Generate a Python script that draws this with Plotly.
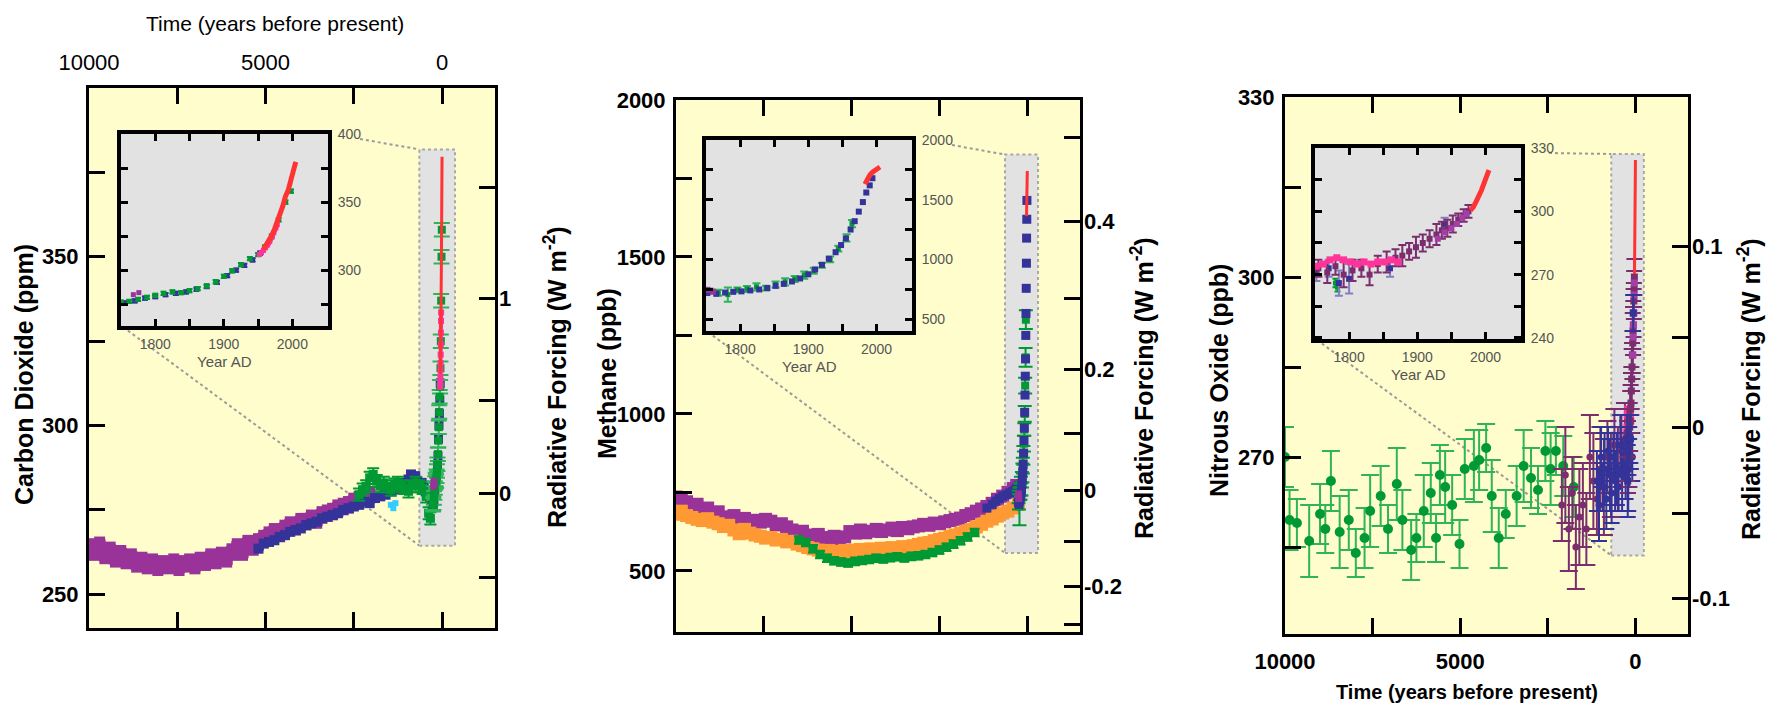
import math
import plotly.graph_objects as go

W, H = 1768, 710

# ======================= DATA =======================
# --- Carbon dioxide (ppm); long-term records vs years before present ---
co2_purple_bp = [10000, 9850, 9700, 9550, 9400, 9250, 9100, 8950, 8800, 8650,
                 8500, 8350, 8200, 8050, 7900, 7750, 7600, 7450, 7300, 7150,
                 7000, 6850, 6700, 6550, 6400, 6250, 6100, 5950, 5800, 5650,
                 5500, 5350, 5200, 5050, 4900, 4750, 4600, 4450, 4300, 4150,
                 4000, 3850, 3700, 3550, 3400, 3250, 3100, 2950, 2800, 2650,
                 2500, 2350, 2200, 2050]
co2_purple_ppm = [264, 262.5, 264.5, 261.5, 263, 260.5, 262, 260, 261, 259,
                  260, 258.5, 259.5, 258, 259, 258.5, 259.5, 258, 259, 259.5,
                  258.5, 260, 259.5, 261, 260, 261.5, 260.5, 262.5, 264, 262.5,
                  265, 264, 265.5, 266.5, 267.5, 268.5, 268, 269.5, 270.5, 270,
                  271.5, 271.5, 272.5, 272, 273.5, 274, 274.5, 275.5, 276, 276.5,
                  277.5, 278, 279, 279.5]
co2_blue_bp = [5200, 5050, 4900, 4750, 4600, 4450, 4300, 4150, 4000, 3850,
               3700, 3550, 3400, 3250, 3100, 2950, 2800, 2650, 2500, 2350,
               2200, 2050, 1900, 1750, 1600, 1450, 1300, 1150, 1050, 950,
               880, 820, 760, 700, 640, 580, 520, 460, 400, 340, 290, 250]
co2_blue_ppm = [263.5, 265, 265.5, 266, 267, 267.5, 268.5, 269, 269.5, 270.5,
                271, 271.5, 272.5, 273, 273.5, 274, 275, 275.5, 276, 276.5,
                277.5, 277, 278.5, 279, 279.5, 280.5, 281, 281.5, 283, 284,
                285.5, 284.5, 285, 283.5, 282.5, 283, 281.5, 280.5, 280, 279, 278, 277.5]
co2_green_bp = [2350, 2250, 2150, 2050, 1950, 1850, 1750, 1650, 1550, 1450, 1350,
                1250, 1150, 1050, 950, 850, 750, 650, 550, 450, 380, 330]
co2_green_ppm = [279.5, 281, 282, 284.5, 285.5, 283.5, 282, 283, 282, 281, 282.5,
                 283, 282, 281.5, 280.5, 282, 283, 282, 281.5, 279, 274, 272.5]
co2_cyan_bp = [1450, 1380, 1320]
co2_cyan_ppm = [276.5, 275.5, 277]
# recent records vs calendar year AD
co2_green_yr = [1750, 1762, 1775, 1788, 1800, 1812, 1825, 1838, 1850, 1862, 1875,
                1888, 1900, 1912, 1925, 1938, 1950, 1960, 1970, 1980, 1990, 1998]
co2_green_mod_ppm = [276.5, 277, 278.5, 280, 281.5, 283, 284, 283.5, 285, 286.5, 288.5,
                     291.5, 295.5, 299.5, 304, 308.5, 311.5, 317, 325, 337, 350, 358]
co2_blue_yr = [1755, 1770, 1785, 1800, 1815, 1830, 1845, 1860, 1875, 1890, 1905,
               1918, 1930, 1942, 1953]
co2_blue_mod_ppm = [276, 277.5, 279.5, 280.5, 282, 283, 284, 286, 288, 291, 296,
                    300, 303.5, 307.5, 312.5]
co2_purple_yr = [1768, 1776]
co2_purple_mod_ppm = [282, 283.5]
co2_pink_yr = [1952, 1955, 1958, 1961, 1964, 1967, 1970, 1973, 1976, 1978]
co2_pink_ppm = [311.5, 313, 314.5, 316.5, 318.5, 321, 324, 327.5, 331, 333.5]
co2_red_yr = [1958, 1962, 1966, 1970, 1974, 1978, 1982, 1986, 1990, 1994, 1998, 2002, 2005]
co2_red_ppm = [315.3, 318.4, 321.1, 325.6, 330.1, 335.3, 341.0, 347.0, 354.2, 358.8,
               366.5, 373.1, 379.6]

# --- Methane (ppb) ---
ch4_purple_bp = [10000, 9850, 9700, 9550, 9400, 9250, 9100, 8950, 8800, 8650,
                 8500, 8350, 8200, 8050, 7900, 7750, 7600, 7450, 7300, 7150,
                 7000, 6850, 6700, 6550, 6400, 6250, 6100, 5950, 5800, 5650,
                 5500, 5350, 5200, 5050, 4900, 4750, 4600, 4450, 4300, 4150,
                 4000, 3850, 3700, 3550, 3400, 3250, 3100, 2950, 2800, 2650,
                 2500, 2350, 2200, 2050, 1900, 1750, 1600, 1450, 1300, 1150,
                 1000, 850, 700, 550, 400, 300]
ch4_purple_ppb = [735, 725, 720, 705, 712, 695, 700, 680, 688, 672,
                  668, 676, 660, 667, 652, 661, 655, 664, 658, 646,
                  650, 640, 630, 620, 626, 614, 610, 616, 606, 600,
                  610, 602, 608, 625, 620, 630, 621, 626, 632, 625,
                  630, 636, 628, 638, 634, 640, 643, 648, 645, 652,
                  650, 656, 660, 664, 668, 676, 682, 690, 697, 705,
                  715, 728, 738, 750, 762, 772]
ch4_orange_bp = [10000, 9850, 9700, 9550, 9400, 9250, 9100, 8950, 8800, 8650,
                 8500, 8350, 8200, 8050, 7900, 7750, 7600, 7450, 7300, 7150,
                 7000, 6850, 6700, 6550, 6400, 6250, 6100, 5950, 5800, 5650,
                 5500, 5350, 5200, 5050, 4900, 4750, 4600, 4450, 4300, 4150,
                 4000, 3850, 3700, 3550, 3400, 3250, 3100, 2950, 2800, 2650,
                 2500, 2350, 2200, 2050, 1900, 1750, 1600, 1450, 1300, 1150,
                 1000, 850, 700, 550, 400, 250]
ch4_orange_ppb = [680, 690, 676, 670, 664, 660, 666, 655, 650, 641,
                  645, 630, 618, 632, 620, 614, 610, 604, 606, 598,
                  600, 592, 594, 585, 580, 574, 570, 566, 562, 565,
                  558, 562, 565, 560, 566, 568, 562, 570, 566, 572,
                  568, 574, 570, 577, 575, 580, 584, 588, 590, 596,
                  600, 604, 610, 614, 620, 626, 632, 640, 648, 658,
                  665, 674, 684, 690, 700, 712]
ch4_green_bp = [6500, 6300, 6100, 5900, 5700, 5500, 5300, 5100, 4900, 4700, 4500, 4300, 4100,
                3900, 3700, 3500, 3300, 3100, 2900, 2700, 2500, 2300, 2100, 1900, 1700, 1500]
ch4_green_ppb = [598, 590, 570, 552, 540, 532, 528, 525, 530, 533, 536, 540, 538,
                 542, 545, 541, 546, 548, 552, 558, 566, 575, 585, 596, 608, 622]
ch4_blue_bp = [1150, 1000, 900, 800, 700, 600, 500, 420, 350, 300, 250]
ch4_blue_ppb = [700, 712, 722, 730, 738, 742, 748, 752, 758, 765, 772]
ch4_blue_yr = [1752, 1765, 1778, 1790, 1802, 1815, 1828, 1840, 1852, 1864, 1876, 1888, 1900,
               1910, 1920, 1930, 1940, 1948, 1955, 1962, 1968, 1974, 1980, 1985, 1990, 1994]
ch4_blue_mod_ppb = [718, 712, 722, 728, 732, 740, 748, 760, 778, 795, 815, 840, 875,
                    915, 955, 1005, 1060, 1120, 1175, 1250, 1320, 1400, 1480, 1560, 1620, 1680]
ch4_green_yr = [1755, 1768, 1782, 1796, 1810, 1824, 1838, 1852, 1866, 1880, 1894, 1908,
                1920, 1932, 1944, 1956, 1964]
ch4_green_mod_ppb = [735, 720, 705, 745, 752, 770, 760, 790, 812, 835, 868, 905,
                     950, 1000, 1090, 1180, 1300]
ch4_green_mod_err = [20, 25, 60, 20, 25, 30, 20, 25, 30, 25, 30, 25, 20, 25, 25, 30, 30]
ch4_purple_yr = [1752, 1760]
ch4_purple_mod_ppb = [745, 730]
ch4_red_yr = [1983, 1986, 1990, 1994, 1998, 2002, 2005]
ch4_red_ppb = [1630, 1665, 1705, 1730, 1750, 1765, 1774]

# --- Nitrous oxide (ppb) ---
n2o_green_bp = [10000, 9870, 9660, 9310, 9000, 8850, 8690, 8440, 8180, 7980,
                7730, 7570, 7270, 7060, 6810, 6650, 6400, 6250, 6040, 5840,
                5690, 5580, 5430, 5230, 5020, 4870, 4610, 4460, 4260, 4100,
                3900, 3700, 3390, 3190, 2980, 2780, 2570, 2420, 2270, 2060, 1760]
n2o_green_ppb = [270, 259.5, 259, 256, 260.5, 258, 266, 257.5, 259.5, 254,
                 256.5, 261, 263.5, 258, 265.5, 259.5, 254.5, 256.5, 261, 264,
                 256.5, 267, 265, 262, 255.5, 268, 268.5, 269.5, 271.5, 263.5,
                 256.5, 260.5, 263.5, 268.5, 266.5, 264.5, 271, 268, 271, 268.5, 265]
n2o_green_err = [5, 5, 4, 6, 5, 4, 5, 6, 5, 4,
                 5, 6, 5, 4, 6, 5, 5, 4, 6, 5,
                 4, 5, 6, 5, 4, 5, 6, 5, 4, 6,
                 5, 4, 5, 6, 5, 4, 5, 6, 4, 5, 5]
n2o_purple_bp = [2100, 2000, 1900, 1800, 1700, 1600, 1500, 1400, 1300, 1200,
                 1100, 1000, 900, 800, 700, 600, 500, 400, 300]
n2o_purple_ppb = [262, 267, 258, 264, 255, 260, 262, 258, 270, 266,
                  263, 268, 265, 270, 267, 272, 268, 271, 273]
n2o_purple_err = [6, 8, 7, 6, 7, 8, 7, 6, 7, 8, 6, 7, 8, 6, 7, 6, 7, 6, 6]
n2o_blue_bp = [1100, 1040, 980, 930, 880, 830, 780, 730, 680, 630, 580,
               530, 480, 430, 380, 330, 280, 230, 180, 130, 90]
n2o_blue_ppb = [266, 262, 270, 265, 268, 263, 271, 267, 264, 270, 266,
                268, 265, 272, 267, 270, 268, 271, 269, 273, 270]
n2o_blue_err = [5, 6, 5, 4, 6, 5, 4, 6, 5, 4, 5, 6, 4, 5, 6, 4, 5, 5, 4, 5, 4]
n2o_pink_yr = [1752, 1762, 1772, 1782, 1792, 1802, 1812, 1822, 1832, 1842, 1852, 1862, 1872]
n2o_pink_ppb = [274, 275, 277, 278, 277, 276, 275, 276, 275, 276, 276, 277, 276]
n2o_mag_yr = [1755, 1768, 1780, 1792, 1805, 1818, 1830, 1842, 1855, 1868, 1878,
              1888, 1898, 1908, 1918, 1928, 1936, 1944, 1952, 1960, 1968, 1975]
n2o_mag_ppb = [273, 271, 274, 270, 272, 273, 270, 275, 276, 278, 279,
               281, 283, 285, 287, 289, 291, 292, 294, 296, 298, 300]
n2o_mag_err = [4, 5, 4, 6, 5, 4, 5, 4, 5, 4, 5, 4, 5, 4, 4, 5, 4, 4, 4, 3, 3, 3]
n2o_violet_yr = [1930, 1940, 1950, 1958, 1966, 1972]
n2o_violet_ppb = [287, 290, 292, 294, 297, 299]
n2o_blue_yr = [1752, 1770, 1785, 1800, 1860, 1940]
n2o_blue_mod_ppb = [271, 273, 266, 268, 273, 294]
n2o_blue_mod_err = [4, 4, 6, 7, 4, 3]
n2o_green_yr = [1780, 1783]
n2o_green_mod_ppb = [266, 264]
n2o_red_yr = [1978, 1982, 1986, 1990, 1994, 1998, 2002, 2005]
n2o_red_ppb = [300.5, 302, 304.5, 307, 310, 313.5, 317, 319.5]

# axis ticks: labelled (major) and unlabelled (minor)
time_major = [10000, 5000, 0]
time_minor = [7500, 2500]
co2_major = [250, 300, 350]
co2_minor = [275, 325, 375]
ch4_major = [500, 1000, 1500, 2000]
ch4_minor = [750, 1250, 1750]
n2o_major = [270, 300, 330]
n2o_minor = [255, 285, 315]
co2_rf_major = [0, 1]
co2_rf_minor = [-0.5, 0.5, 1.5]
ch4_rf_major = [-0.2, 0, 0.2, 0.4]
ch4_rf_minor = [-0.3, -0.1, 0.1, 0.3, 0.5]
n2o_rf_major = [-0.1, 0, 0.1]
n2o_rf_minor = [-0.05, 0.05]
inset_year_major = [1800, 1900, 2000]
inset_year_minor = [1850, 1950]
co2_inset_major = [300, 350, 400]
co2_inset_minor = [275, 325, 375]
ch4_inset_major = [500, 1000, 1500, 2000]
ch4_inset_minor = [750, 1250, 1750]
n2o_inset_major = [240, 270, 300, 330]
n2o_inset_minor = [255, 285, 315]

# radiative-forcing reference concentrations
C0, M0, N0 = 280.0, 755.0, 275.0


def overlap(m, n):
    return 0.47 * math.log(1 + 2.01e-5 * (m * n) ** 0.75 + 5.31e-15 * m * (m * n) ** 1.52)


def rf_co2_inv(r):
    return C0 * math.exp(r / 5.35)


def rf_ch4(m):
    return 0.036 * (math.sqrt(m) - math.sqrt(M0)) - (overlap(m, N0) - overlap(M0, N0))


def rf_n2o(n):
    return 0.12 * (math.sqrt(n) - math.sqrt(N0)) - (overlap(M0, n) - overlap(M0, N0))


def invert(f, target, lo, hi):
    for _ in range(80):
        mid = 0.5 * (lo + hi)
        if f(mid) < target:
            lo = mid
        else:
            hi = mid
    return 0.5 * (lo + hi)


def ch4_at(r):
    return invert(rf_ch4, r, 100, 4000)


def n2o_at(r):
    return invert(rf_n2o, r, 150, 400)


PRESENT = 2005


def bp(years):
    return [PRESENT - y for y in years]


def fmt(v):
    return f"{v:g}"


# ======================= LAYOUT GEOMETRY (pixels) =======================
P1 = (89, 88, 495, 628)
P2 = (676, 100, 1080, 632)
P3 = (1285, 97, 1688, 634)
I1 = (121, 134, 328, 326)
I2 = (706, 140, 912, 331)
I3 = (1315, 148, 1521, 339)
TRANGE = [10000, -1500]
YEARRANGE = [1750, 2052]


def dom_x(b):
    return [b[0] / W, b[2] / W]


def dom_y(b):
    return [1 - b[3] / H, 1 - b[1] / H]


def px(x):
    return x / W


def py(y):
    return 1 - y / H


SANS = "Liberation Sans, Arial, sans-serif"

PURPLE = "#993399"
BLUE = "#333399"
GREEN = "#009933"
LGREEN = "#2fb457"
ORANGE = "#ff9933"
RED = "#ff3333"
PINK = "#ff3399"
CYAN = "#33ccff"
MAG = "#7a2e6e"
VIOLET = "#a43fa8"

fig = go.Figure()


def sc(x, y, xa, ya, color, size=8, symbol="square", err=None, errcolor=None,
       mode="markers", lw=3, errw=4, errt=2):
    tr = go.Scatter(x=x, y=y, xaxis=xa, yaxis=ya, mode=mode, showlegend=False,
                    hoverinfo="skip",
                    marker=dict(color=color, size=size, symbol=symbol, line=dict(width=0)),
                    line=dict(color=color, width=lw))
    if err is not None:
        if isinstance(err, (int, float)):
            tr.error_y = dict(type="constant", value=err, visible=True,
                              color=errcolor or color, thickness=errt, width=errw)
        else:
            tr.error_y = dict(type="data", array=err, visible=True,
                              color=errcolor or color, thickness=errt, width=errw)
    fig.add_trace(tr)


# ---------------- panel 1: CO2 ----------------
sc(co2_purple_bp, co2_purple_ppm, "x", "y", PURPLE, size=12, err=2.6, errt=11, errw=0)
sc(co2_blue_bp, co2_blue_ppm, "x", "y", BLUE, size=10, err=1.3, errt=8, errw=0)
sc(co2_green_bp, co2_green_ppm, "x", "y", GREEN, size=9, err=1.8, errw=6)
sc(co2_cyan_bp, co2_cyan_ppm, "x", "y", CYAN, size=6)
sc(bp(co2_blue_yr), co2_blue_mod_ppm, "x", "y", BLUE, size=9, err=1.2)
sc(bp(co2_green_yr), co2_green_mod_ppm, "x", "y", GREEN, size=8, err=2, errcolor=LGREEN, errw=8)
sc(bp(co2_purple_yr), co2_purple_mod_ppm, "x", "y", PURPLE, size=7)
sc(bp(co2_pink_yr), co2_pink_ppm, "x", "y", PINK, size=6, mode="lines+markers", lw=4)
sc(bp(co2_red_yr), co2_red_ppm, "x", "y", RED, mode="lines", lw=3)
fig.add_trace(go.Scatter(x=[None], y=[None], xaxis="x", yaxis="y2", showlegend=False, hoverinfo="skip"))
# inset
sc(co2_blue_yr, co2_blue_mod_ppm, "x2", "y3", BLUE, size=5, err=1.2, errw=3)
sc(co2_green_yr, co2_green_mod_ppm, "x2", "y3", GREEN, size=5, err=1.2, errw=3)
sc(co2_purple_yr, co2_purple_mod_ppm, "x2", "y3", PURPLE, size=5)
sc(co2_pink_yr, co2_pink_ppm, "x2", "y3", PINK, size=5, mode="lines+markers", lw=5)
sc(co2_red_yr, co2_red_ppm, "x2", "y3", RED, mode="lines", lw=5)

# ---------------- panel 2: CH4 ----------------
sc(ch4_purple_bp, ch4_purple_ppb, "x3", "y4", PURPLE, size=13, err=18, errt=12, errw=0)
sc(ch4_orange_bp, ch4_orange_ppb, "x3", "y4", ORANGE, size=13, err=18, errt=12, errw=0)
sc(ch4_green_bp, ch4_green_ppb, "x3", "y4", GREEN, size=9, err=12, errw=5)
sc(ch4_blue_bp, ch4_blue_ppb, "x3", "y4", BLUE, size=9)
sc(bp(ch4_green_yr), ch4_green_mod_ppb, "x3", "y4", GREEN, size=8, err=ch4_green_mod_err, errw=7)
sc(bp(ch4_blue_yr), ch4_blue_mod_ppb, "x3", "y4", BLUE, size=9)
sc(bp(ch4_purple_yr), ch4_purple_mod_ppb, "x3", "y4", PURPLE, size=7)
sc(bp(ch4_red_yr), ch4_red_ppb, "x3", "y4", RED, mode="lines", lw=3)
fig.add_trace(go.Scatter(x=[None], y=[None], xaxis="x3", yaxis="y5", showlegend=False, hoverinfo="skip"))
# inset
sc(ch4_green_yr, ch4_green_mod_ppb, "x4", "y6", GREEN, size=5, err=ch4_green_mod_err, errcolor=LGREEN, errw=4)
sc(ch4_blue_yr, ch4_blue_mod_ppb, "x4", "y6", BLUE, size=6)
sc(ch4_purple_yr, ch4_purple_mod_ppb, "x4", "y6", PURPLE, size=6)
sc(ch4_red_yr, ch4_red_ppb, "x4", "y6", RED, size=5, mode="lines", lw=5)

# ---------------- panel 3: N2O ----------------
sc(n2o_green_bp, n2o_green_ppb, "x5", "y7", GREEN, size=10, symbol="circle",
   err=n2o_green_err, errcolor=LGREEN, errw=9, errt=2)
sc(n2o_purple_bp, n2o_purple_ppb, "x5", "y7", MAG, size=7, symbol="circle",
   err=n2o_purple_err, errw=9)
sc(n2o_blue_bp, n2o_blue_ppb, "x5", "y7", BLUE, size=7, symbol="circle",
   err=n2o_blue_err, errw=8)
sc(bp(n2o_pink_yr), n2o_pink_ppb, "x5", "y7", PINK, size=7)
sc(bp(n2o_mag_yr), n2o_mag_ppb, "x5", "y7", MAG, size=7, err=n2o_mag_err, errw=8)
sc(bp(n2o_violet_yr), n2o_violet_ppb, "x5", "y7", VIOLET, size=7)
sc(bp(n2o_blue_yr), n2o_blue_mod_ppb, "x5", "y7", BLUE, size=7, err=n2o_blue_mod_err, errw=8)
sc(bp(n2o_red_yr), n2o_red_ppb, "x5", "y7", RED, mode="lines", lw=3)
fig.add_trace(go.Scatter(x=[None], y=[None], xaxis="x5", yaxis="y8", showlegend=False, hoverinfo="skip"))
# inset
sc(n2o_green_yr, n2o_green_mod_ppb, "x6", "y9", GREEN, size=5, err=2, errw=3)
sc(n2o_blue_yr, n2o_blue_mod_ppb, "x6", "y9", BLUE, size=6, err=n2o_blue_mod_err, errcolor="#8080c0", errw=4)
sc(n2o_mag_yr, n2o_mag_ppb, "x6", "y9", MAG, size=6, err=n2o_mag_err, errw=4)
sc(n2o_pink_yr, n2o_pink_ppb, "x6", "y9", PINK, size=7, mode="lines+markers", lw=4)
sc(n2o_violet_yr, n2o_violet_ppb, "x6", "y9", VIOLET, size=6)
sc(n2o_red_yr, n2o_red_ppb, "x6", "y9", RED, mode="lines", lw=5)

# ======================= AXES =======================
main_tick_font = dict(family=SANS, size=22, color="black")
inset_font = dict(family=SANS, size=14, color="#555555")


def minor(vals, ln):
    return dict(tickmode="array", tickvals=vals, ticks="inside", ticklen=ln,
                tickwidth=3, tickcolor="black", showgrid=False)


def axis(major, minor_vals, labels, font, ln=16, lw=3, **kw):
    d = dict(showgrid=False, zeroline=False, showline=True, linecolor="black",
             automargin=False, linewidth=lw, ticks="inside", tickcolor="black",
             tickwidth=3, ticklen=ln, tickmode="array", tickvals=major,
             ticktext=labels, tickfont=font, minor=minor(minor_vals, ln))
    d.update(kw)
    return d


def bold(vals):
    return [f"<b>{fmt(v)}</b>" for v in vals]


def plain(vals):
    return [fmt(v) for v in vals]


CO2_RANGE = [240, 400]
CH4_RANGE = [305, 2000]
N2O_RANGE = [240.5, 330]

layout_axes = dict(
    # panel 1
    xaxis=axis(time_major, time_minor, plain(time_major), main_tick_font,
               domain=dom_x(P1), anchor="y", range=TRANGE, side="top", mirror="ticks",
               ticklabelstandoff=6),
    yaxis=axis(co2_major, co2_minor, bold(co2_major), main_tick_font,
               domain=dom_y(P1), anchor="x", range=CO2_RANGE, mirror=True, ticklabelstandoff=3),
    yaxis2=axis([rf_co2_inv(r) for r in co2_rf_major], [rf_co2_inv(r) for r in co2_rf_minor],
                bold(co2_rf_major), main_tick_font, showline=False,
                overlaying="y", anchor="x", side="right", range=CO2_RANGE, ticklabelstandoff=3),
    xaxis2=axis(inset_year_major, inset_year_minor, plain(inset_year_major), inset_font, ln=7, lw=4,
                domain=dom_x(I1), anchor="y3", range=YEARRANGE, mirror="ticks", ticklabelstandoff=2),
    yaxis3=axis(co2_inset_major, co2_inset_minor, plain(co2_inset_major), inset_font, ln=7, lw=4,
                domain=dom_y(I1), anchor="x2", range=[259, 400], side="right", mirror="ticks",
                ticklabelstandoff=3),
    # panel 2
    xaxis3=axis(time_major, time_minor, plain(time_major), main_tick_font, showticklabels=False,
                domain=dom_x(P2), anchor="y4", range=TRANGE, side="bottom", mirror="ticks"),
    yaxis4=axis(ch4_major, ch4_minor, bold(ch4_major), main_tick_font,
                domain=dom_y(P2), anchor="x3", range=CH4_RANGE, mirror=True, ticklabelstandoff=3),
    yaxis5=axis([ch4_at(r) for r in ch4_rf_major], [ch4_at(r) for r in ch4_rf_minor],
                bold(ch4_rf_major), main_tick_font, showline=False,
                overlaying="y4", anchor="x3", side="right", range=CH4_RANGE, ticklabelstandoff=3),
    xaxis4=axis(inset_year_major, inset_year_minor, plain(inset_year_major), inset_font, ln=7, lw=4,
                domain=dom_x(I2), anchor="y6", range=YEARRANGE, mirror="ticks", ticklabelstandoff=2),
    yaxis6=axis(ch4_inset_major, ch4_inset_minor, plain(ch4_inset_major), inset_font, ln=7, lw=4,
                domain=dom_y(I2), anchor="x4", range=[400, 2000], side="right", mirror="ticks",
                ticklabelstandoff=3),
    # panel 3
    xaxis5=axis(time_major, time_minor, bold(time_major), main_tick_font,
                domain=dom_x(P3), anchor="y7", range=TRANGE, side="bottom", mirror="ticks",
                ticklabelstandoff=6),
    yaxis7=axis(n2o_major, n2o_minor, bold(n2o_major), main_tick_font,
                domain=dom_y(P3), anchor="x5", range=N2O_RANGE, mirror=True, ticklabelstandoff=3),
    yaxis8=axis([n2o_at(r) for r in n2o_rf_major], [n2o_at(r) for r in n2o_rf_minor],
                bold(n2o_rf_major), main_tick_font, showline=False,
                overlaying="y7", anchor="x5", side="right", range=N2O_RANGE, ticklabelstandoff=3),
    xaxis6=axis(inset_year_major, inset_year_minor, plain(inset_year_major), inset_font, ln=7, lw=4,
                domain=dom_x(I3), anchor="y9", range=YEARRANGE, mirror="ticks", ticklabelstandoff=2),
    yaxis9=axis(n2o_inset_major, n2o_inset_minor, plain(n2o_inset_major), inset_font, ln=7, lw=4,
                domain=dom_y(I3), anchor="x6", range=[239.5, 330], side="right", mirror="ticks",
                ticklabelstandoff=3),
)

# ======================= SHAPES =======================
shapes = []
for b in (P1, P2, P3):
    shapes.append(dict(type="rect", xref="paper", yref="paper", x0=px(b[0]), x1=px(b[2]),
                       y0=py(b[3]), y1=py(b[1]), fillcolor="#fffdcc", line=dict(width=0),
                       layer="below"))


def t2px(b, t):
    return b[0] + (TRANGE[0] - t) / (TRANGE[0] - TRANGE[1]) * (b[2] - b[0])


def v2py(b, v, rng):
    return b[3] - (v - rng[0]) / (rng[1] - rng[0]) * (b[3] - b[1])


# zoom windows (time span, value span) and the insets they connect to
zooms = [
    (P1, I1, "x", "y", CO2_RANGE, (643, -368), (264.4, 381.8), 32),
    (P2, I2, "x3", "y4", CH4_RANGE, (635, -305), (557, 1826), 40),
    (P3, I3, "x5", "y7", N2O_RANGE, (690, -240), (253.6, 320.5), 28),
]
for P, I, xa, ya, rng, (t0, t1), (v0, v1), lab_w in zooms:
    shapes.append(dict(type="rect", xref="paper", yref="paper", x0=px(I[0]), x1=px(I[2]),
                       y0=py(I[3]), y1=py(I[1]), fillcolor="#e2e2e2", line=dict(width=0),
                       layer="below"))
    cx0 = t2px(P, t0)
    cyt = v2py(P, v1, rng)
    cyb = v2py(P, v0, rng)
    shapes.append(dict(type="line", xref="paper", yref="paper",
                       x0=px(I[2] + lab_w), y0=py(I[1] + 5), x1=px(cx0), y1=py(cyt),
                       line=dict(color="#9a9a9a", width=2, dash="dot"), layer="below"))
    shapes.append(dict(type="line", xref="paper", yref="paper",
                       x0=px(I[0] + 2), y0=py(I[3] + 1), x1=px(cx0), y1=py(cyb),
                       line=dict(color="#9a9a9a", width=2, dash="dot"), layer="below"))
    shapes.append(dict(type="rect", xref=xa, yref=ya, x0=t0, x1=t1, y0=v0, y1=v1,
                       fillcolor="#e2e2e2", line=dict(color="#a8a8a8", width=2, dash="dot"),
                       layer="below"))

# ======================= TEXT =======================
title_font = dict(family=SANS, size=25, color="black")
ann = []


def text(x, y, s, font, angle=0):
    ann.append(dict(x=px(x), y=py(y), xref="paper", yref="paper", text=s, showarrow=False,
                    font=font, textangle=angle, xanchor="center", yanchor="middle"))


text(275, 24, "Time (years before present)", dict(family=SANS, size=21, color="black"))
text(1467, 692, "<b>Time (years before present)</b>", dict(family=SANS, size=20, color="black"))
text(24, 375, "<b>Carbon Dioxide (ppm)</b>", title_font, -90)
text(555, 377, "<b>Radiative Forcing (W m<sup>-2</sup>)</b>", title_font, -90)
text(607, 374, "<b>Methane (ppb)</b>", title_font, -90)
text(1142, 388, "<b>Radiative Forcing (W m<sup>-2</sup>)</b>", title_font, -90)
text(1219, 381, "<b>Nitrous Oxide (ppb)</b>", title_font, -90)
text(1749, 389, "<b>Radiative Forcing (W m<sup>-2</sup>)</b>", title_font, -90)
for I in (I1, I2, I3):
    text((I[0] + I[2]) / 2, I[3] + 35, "Year AD", dict(family=SANS, size=15, color="#555555"))

fig.update_layout(
    template="none",
    width=W, height=H, autosize=False,
    margin=dict(l=0, r=0, t=0, b=0, pad=0),
    font=dict(family=SANS, color="black"),
    paper_bgcolor="white", plot_bgcolor="rgba(0,0,0,0)",
    showlegend=False, shapes=shapes, annotations=ann,
    **layout_axes,
)

fig.write_html("out.html")
